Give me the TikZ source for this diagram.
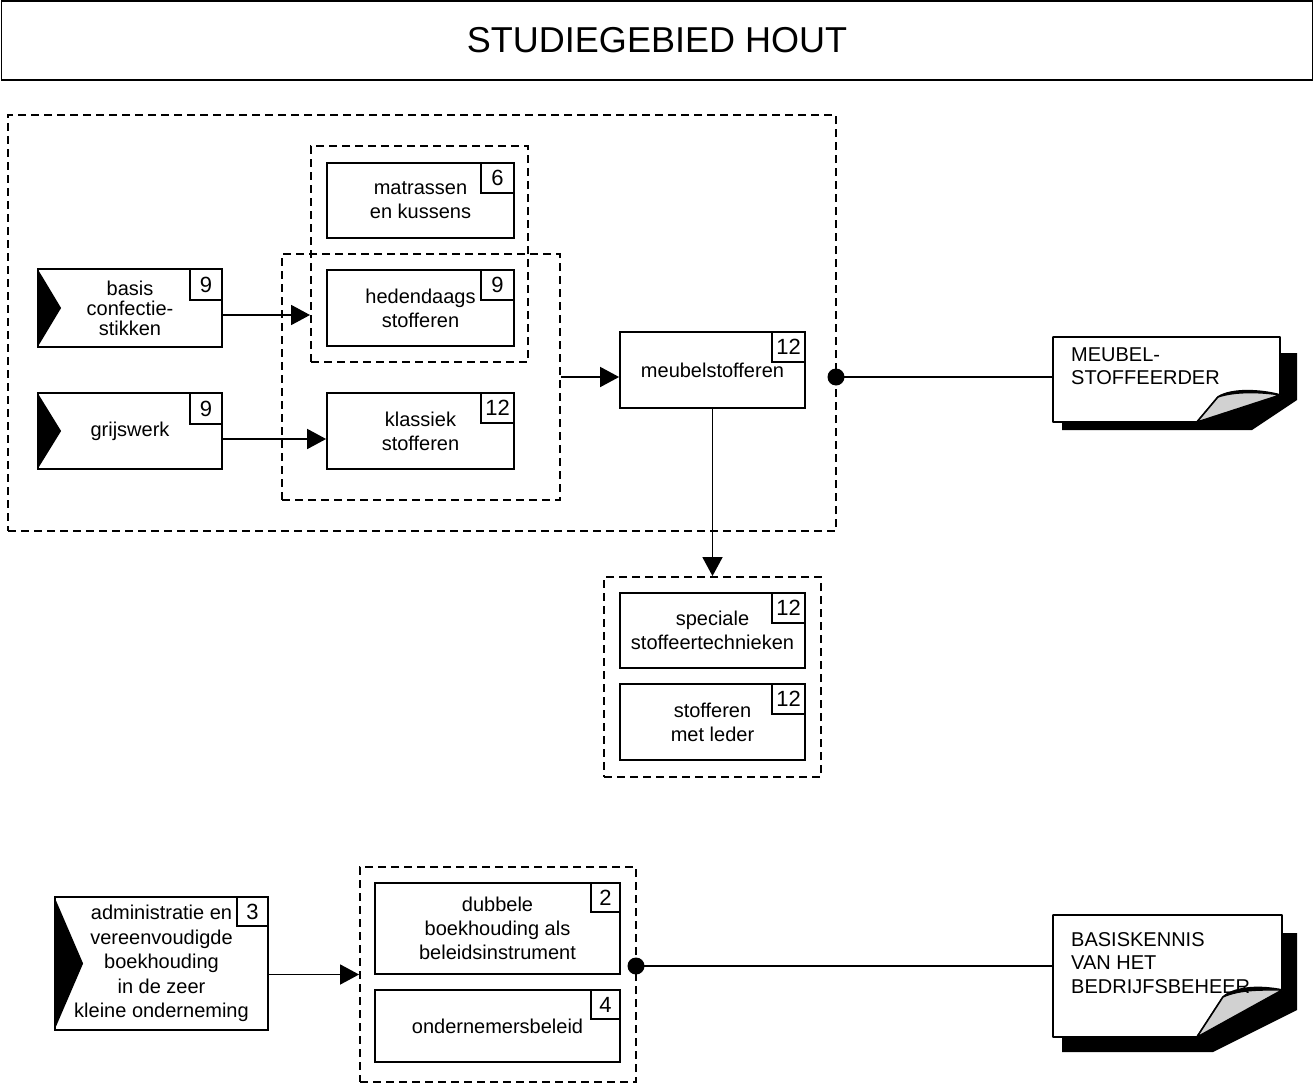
\documentclass[tikz,border=0pt]{standalone}
\usepackage{fontspec}
\setmainfont{Liberation Sans}
\usetikzlibrary{arrows.meta,calc}
\tikzset{
  box/.style={draw, line width=1.8pt, minimum width=187pt, minimum height=76pt, align=center, inner sep=0pt, font=\fontsize{20}{24}\selectfont},
  num/.style={draw, line width=1.8pt, minimum width=33pt, minimum height=30pt, inner sep=0pt, anchor=north east, font=\fontsize{22}{24}\selectfont},
  grp/.style={draw, line width=1.9pt, dash pattern=on 8pt off 5pt, inner sep=0pt},
  conn/.style={line width=1.8pt, -{Triangle[length=19pt,width=20pt]}},
  wire/.style={line width=1.8pt},
  junction/.style={circle, fill=black, minimum size=17pt, inner sep=0pt},
  doctext/.style={align=left, font=\fontsize{20}{23}\selectfont, anchor=north west, inner sep=0pt},
  page/.style={fill=white, draw, line width=1.8pt, line join=round},
  flap/.style={fill=black!18, draw, line width=1.4pt, line join=round},
}
\begin{document}
\begin{tikzpicture}[x=1pt,y=-1pt]
\useasboundingbox (0,0) rectangle (1315,1084);

% title
\node[draw, line width=1.8pt, minimum width=1311pt, minimum height=79pt, inner sep=0pt,
      font=\fontsize{36}{40}\selectfont] (title) at (657,40.5) {STUDIEGEBIED HOUT};

% groups
\node[grp, minimum width=828pt, minimum height=416pt] (grpBig) at (422,323) {};
\node[grp, minimum width=217pt, minimum height=216pt] (grpA) at (419.5,254) {};
\node[grp, minimum width=278pt, minimum height=246pt] (grpB) at (421,377) {};
\node[grp, minimum width=217pt, minimum height=200pt] (grpC) at (712.5,677) {};
\node[grp, minimum width=276pt, minimum height=215pt] (grpD) at (498,974.5) {};

% boxes
\node[box, fill=white, minimum height=75pt] (mat) at (420.5,200.5) {matrassen\\en kussens};
\node[num] (matn) at (mat.north east) {6};
\node[box, fill=white] (hed) at (420.5,308) {hedendaags\\stofferen};
\node[num] (hedn) at (hed.north east) {9};
\node[box] (kla) at (420.5,431) {klassiek\\stofferen};
\node[num] (klan) at (kla.north east) {12};

\node[box, minimum width=184pt, minimum height=78pt, font=\fontsize{20}{20}\selectfont] (bas) at (130,308) {basis\\confectie-\\stikken};
\node[num, minimum width=32pt, minimum height=31pt] (basn) at (bas.north east) {9};
\fill (bas.north west) -- ($(bas.west)+(24,0)$) -- (bas.south west) -- cycle;

\node[box, minimum width=184pt] (gri) at (130,431) {grijswerk};
\node[num, minimum width=32pt, minimum height=31pt] (grin) at (gri.north east) {9};
\fill (gri.north west) -- ($(gri.west)+(24,0)$) -- (gri.south west) -- cycle;

\node[box, minimum width=185pt] (meu) at (712.5,370) {meubelstofferen};
\node[num] (meun) at (meu.north east) {12};

\node[box, minimum width=185pt, minimum height=75pt] (spe) at (712.5,630.5) {speciale\\stoffeertechnieken};
\node[num] (spen) at (spe.north east) {12};
\node[box, minimum width=185pt] (led) at (712.5,722) {stofferen\\met leder};
\node[num] (ledn) at (led.north east) {12};

\node[box, minimum width=213pt, minimum height=133pt, font=\fontsize{20}{24.5}\selectfont] (adm) at (161.5,963.5)
  {administratie en\\vereenvoudigde\\boekhouding\\in de zeer\\kleine onderneming};
\node[num, minimum width=31pt, minimum height=29pt] (admn) at (adm.north east) {3};
\fill (adm.north west) -- ($(adm.west)+(29,0)$) -- (adm.south west) -- cycle;

\node[box, minimum width=245pt, minimum height=91pt] (dub) at (497.5,928.5) {dubbele\\boekhouding als\\beleidsinstrument};
\node[num, minimum width=29pt, minimum height=29pt] (dubn) at (dub.north east) {2};
\node[box, minimum width=245pt, minimum height=72pt] (ond) at (497.5,1026) {ondernemersbeleid};
\node[num, minimum width=29pt, minimum height=29pt] (ondn) at (ond.north east) {4};

% documents
\fill (1062,353) -- (1297,353) -- (1297,400) -- (1252,430) -- (1062,430) -- cycle;
\draw[page] (1053,337) -- (1280,337) -- (1280,395) .. controls (1262,390) and (1232,388) .. (1218,397) -- (1197,422) -- (1053,422) -- cycle;
\draw[flap] (1197,422) -- (1218,397) .. controls (1235,391) and (1262,392) .. (1280,395) -- cycle;
\node[minimum width=227pt, minimum height=85pt, inner sep=0pt] (doc1) at (1166.5,379.5) {};
\node[doctext] (doc1t) at (1071,348) {MEUBEL-\\STOFFEERDER};

\fill (1062,933) -- (1297,933) -- (1297,1010) -- (1213,1052) -- (1062,1052) -- cycle;
\draw[page] (1053,915) -- (1282,915) -- (1282,990) .. controls (1262,986) and (1236,986) .. (1223,997) -- (1197,1037) -- (1053,1037) -- cycle;
\draw[flap] (1197,1037) -- (1223,997) .. controls (1240,989) and (1264,990) .. (1282,990) -- cycle;
\node[minimum width=229pt, minimum height=122pt, inner sep=0pt] (doc2) at (1167.5,976) {};
\node[doctext, font=\fontsize{20}{23.5}\selectfont] (doc2t) at (1071,932) {BASISKENNIS\\VAN HET\\BEDRIJFSBEHEER};

% connectors
\coordinate (basout) at ($(bas.east)+(0,7)$);
\draw[conn] (basout) -- (basout -| grpA.west);
\coordinate (griout) at ($(gri.east)+(0,8)$);
\draw[conn] (griout) -- (griout -| kla.west);
\draw[conn] (grpB.east) -- (grpB.east -| meu.west);
\draw[conn] (meu.south) -- (grpC.north);
\draw[conn] (adm.east |- grpD.west) -- (grpD.west);

\node[junction] (jun1) at (836,377) {};
\draw[wire] (jun1.center) -- (jun1 -| doc1.west);
\node[junction] (jun2) at (636,966) {};
\draw[wire] (jun2.center) -- (jun2 -| doc2.west);
\end{tikzpicture}
\end{document}
